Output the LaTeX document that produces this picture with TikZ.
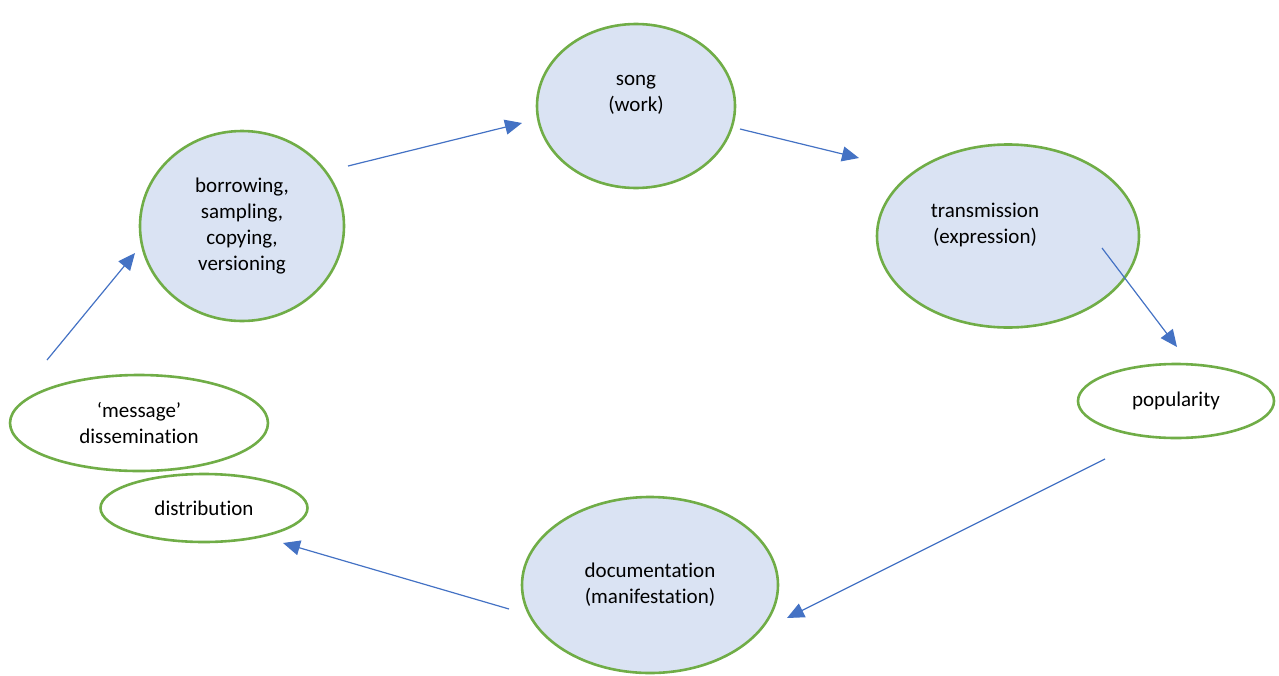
\documentclass[tikz,border=0pt]{standalone}
\usepackage{fontspec}
\setmainfont[Ligatures=NoCommon]{Carlito}
\usetikzlibrary{arrows.meta,shapes.geometric}
\definecolor{ringgreen}{HTML}{70AD47}
\definecolor{paleblue}{HTML}{DAE3F3}
\definecolor{linkblue}{HTML}{4472C4}

\begin{document}
\begin{tikzpicture}[x=1pt,y=-1pt,
    bigoval/.style={ellipse, draw=ringgreen, line width=2.6pt, fill=paleblue,
      inner sep=0pt, align=center, font=\fontsize{21}{26}\selectfont},
    smalloval/.style={ellipse, draw=ringgreen, line width=2.6pt, fill=white,
      inner sep=0pt, align=center, font=\fontsize{21}{26}\selectfont},
    link/.style={draw=linkblue, line width=1.2pt, -{Triangle[length=17pt,width=15pt]}}]
    \useasboundingbox (0,0) rectangle (1279,675);
    % Main cycle
    \node[bigoval, minimum width=198, minimum height=164] (song) at (636,106) {song\\(work)\\\mbox{}};
    \node[bigoval, minimum width=262, minimum height=183] (trans) at (1008,236)
      {transmission\hspace*{46pt}\mbox{}\\(expression)\hspace*{46pt}\mbox{}\\\mbox{}};
    \node[smalloval, minimum width=196, minimum height=74] (pop) at (1176,401) {popularity};
    \node[bigoval, minimum width=256, minimum height=176] (doc) at (650,585) {documentation\\(manifestation)};
    \node[smalloval, minimum width=207, minimum height=68] (distr) at (204,508) {distribution};
    \node[smalloval, minimum width=258, minimum height=96] (msg) at (139,423) {‘message’\\dissemination};
    \node[bigoval, minimum width=204, minimum height=190] (borrow) at (242,226) {borrowing,\\sampling,\\copying,\\versioning};
    % Arrow ends
    \coordinate (b1) at (348,166); \coordinate (b2) at (522,123);
    \coordinate (s1) at (740,129); \coordinate (s2) at (859,158);
    \coordinate (t1) at (1102,248); \coordinate (t2) at (1177,347);
    \coordinate (p1) at (1105,459); \coordinate (p2) at (787,618);
    \coordinate (d1) at (509,609); \coordinate (d2) at (283,543);
    \coordinate (m1) at (47,360); \coordinate (m2) at (135,253);
    % Arrows
    \draw[link] (b1) -- (b2);
    \draw[link] (s1) -- (s2);
    \draw[link] (t1) -- (t2);
    \draw[link] (p1) -- (p2);
    \draw[link] (d1) -- (d2);
    \draw[link] (m1) -- (m2);
\end{tikzpicture}
\end{document}
